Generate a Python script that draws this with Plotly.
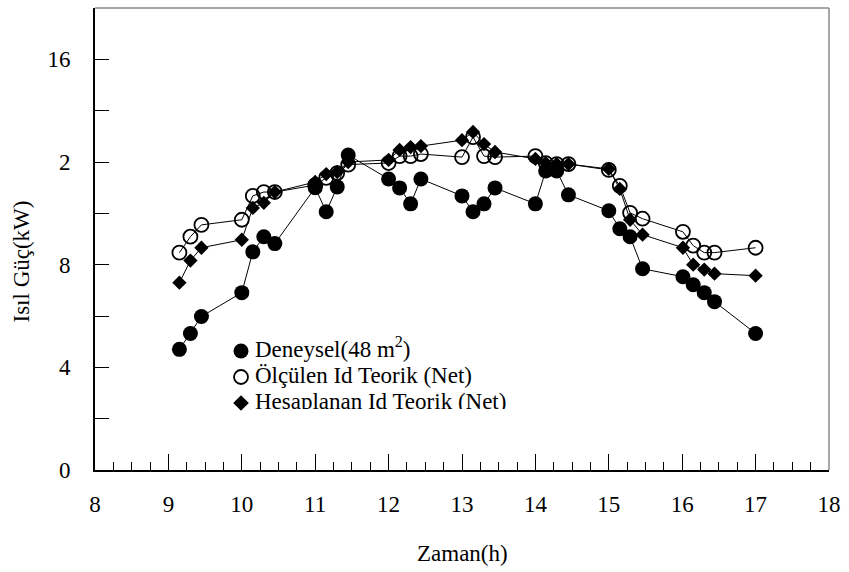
import plotly.graph_objects as go

# Saat (h)
zaman = [9.15, 9.30, 9.45, 10.00, 10.15, 10.30, 10.45, 11.00, 11.15, 11.30, 11.45,
         12.00, 12.15, 12.30, 12.44, 13.00, 13.15, 13.30, 13.45, 14.00, 14.14, 14.29,
         14.45, 15.00, 15.15, 15.29, 15.46, 16.01, 16.15, 16.30, 16.44, 17.00]

# Isıl güç (kW)
deneysel = [4.70, 5.32, 5.98, 6.91, 8.50, 9.09, 8.82, 11.00, 10.06, 11.03, 12.27,
            11.34, 10.99, 10.37, 11.34, 10.68, 10.06, 10.37, 10.99, 10.37, 11.65, 11.65,
            10.72, 10.10, 9.40, 9.09, 7.84, 7.53, 7.22, 6.91, 6.56, 5.32]
olculen = [8.47, 9.09, 9.55, 9.75, 10.68, 10.83, 10.83, 11.10, 11.38, 11.57, 11.90,
           11.96, 12.23, 12.23, 12.31, 12.19, 12.97, 12.23, 12.19, 12.23, 11.96, 11.92,
           11.92, 11.69, 11.07, 10.02, 9.79, 9.28, 8.74, 8.47, 8.47, 8.66]
hesaplanan = [7.30, 8.16, 8.66, 8.97, 10.21, 10.41, 10.83, 11.22, 11.53, 11.61, 12.00,
              12.08, 12.47, 12.58, 12.62, 12.85, 13.17, 12.70, 12.39, 12.12, 11.96, 11.92,
              11.92, 11.73, 10.95, 9.75, 9.17, 8.66, 8.00, 7.81, 7.65, 7.57]

x_ticks = [8, 9, 10, 11, 12, 13, 14, 15, 16, 17, 18]
y_ticks = [0, 4, 8, 12, 16]
y_ticktext = ["0", "4", "8", "2", "16"]

legend_labels = ["Deneysel(48 m<sup>2</sup>)",
                 "Ölçülen Id Teorik (Net)",
                 "Hesaplanan Id Teorik (Net)"]

FONT = "Liberation Serif"
W, H = 849, 572
ML, MR, MT, MB = 95, 15, 8, 102
PW, PH = W - ML - MR, H - MT - MB

fig = go.Figure()

line = dict(color="black", width=1)
fig.add_trace(go.Scatter(x=zaman, y=deneysel, mode="lines+markers", line=line,
                         marker=dict(symbol="circle", size=15, color="black"),
                         showlegend=False))
fig.add_trace(go.Scatter(x=zaman, y=olculen, mode="lines+markers", line=line,
                         marker=dict(symbol="circle-open", size=14, color="black",
                                     line=dict(width=1.8, color="black")),
                         showlegend=False))
fig.add_trace(go.Scatter(x=zaman, y=hesaplanan, mode="lines+markers", line=line,
                         marker=dict(symbol="diamond", size=11, color="black"),
                         showlegend=False))

# Açıklama kutusu: küçük bir iç eksen üzerinde
def px_x(p):
    return (p - ML) / PW

def px_y(p):
    return (H - MB - p) / PH

lx0, lx1 = 230, 560
ly_top, ly_bot = 335, 411
row_px = [351, 377, 403]
rows = [(ly_bot - r) / (ly_bot - ly_top) for r in row_px]
mx = (242 - lx0) / (lx1 - lx0)
tx = (256 - lx0) / (lx1 - lx0)

fig.add_trace(go.Scatter(x=[mx], y=[rows[0]], mode="markers", xaxis="x2", yaxis="y2",
                         marker=dict(symbol="circle", size=15, color="black"),
                         showlegend=False))
fig.add_trace(go.Scatter(x=[mx], y=[rows[1]], mode="markers", xaxis="x2", yaxis="y2",
                         marker=dict(symbol="circle-open", size=14, color="black",
                                     line=dict(width=1.8, color="black")),
                         showlegend=False))
fig.add_trace(go.Scatter(x=[mx], y=[rows[2]], mode="markers", xaxis="x2", yaxis="y2",
                         marker=dict(symbol="diamond", size=12, color="black"),
                         showlegend=False))
fig.add_trace(go.Scatter(x=[tx] * 3, y=rows, mode="text", xaxis="x2", yaxis="y2",
                         text=legend_labels, textposition="middle right",
                         textfont=dict(family=FONT, size=23, color="black"),
                         showlegend=False))

axis_common = dict(showgrid=False, zeroline=False, showline=True, linecolor="black",
                   linewidth=2, mirror=False, ticks="inside", tickcolor="black",
                   tickfont=dict(family=FONT, size=23, color="black"))

frame = dict(color="#8a8a8a", width=1.5)

fig.update_layout(
    width=W, height=H,
    margin=dict(l=ML, r=MR, t=MT, b=MB),
    paper_bgcolor="white", plot_bgcolor="white",
    xaxis=dict(range=[8, 18], tickvals=x_ticks, ticklen=16, tickwidth=1,
               ticklabelstandoff=12,
               minor=dict(dtick=0.25, ticks="inside", ticklen=8, tickcolor="black",
                          tickwidth=1),
               **axis_common),
    yaxis=dict(range=[0, 18], tickvals=y_ticks, ticktext=y_ticktext, ticklen=14,
               tickwidth=1, ticklabelstandoff=18,
               minor=dict(tickvals=[2, 6, 10, 14], ticks="inside", ticklen=14,
                          tickcolor="black", tickwidth=1),
               **axis_common),
    xaxis2=dict(domain=[px_x(lx0), px_x(lx1)], range=[0, 1], anchor="y2",
                visible=False, fixedrange=True),
    yaxis2=dict(domain=[px_y(ly_bot), px_y(ly_top)], range=[0, 1], anchor="x2",
                visible=False, fixedrange=True),
    shapes=[
        # the legend box ends here: hide the lower edge of its last row
        dict(type="rect", xref="paper", yref="paper", layer="above",
             x0=px_x(253), x1=px_x(lx1), y0=px_y(422), y1=px_y(409),
             fillcolor="white", line=dict(width=0)),
        # top and right frame lines
        dict(type="line", xref="paper", yref="paper", x0=0, x1=1, y0=1, y1=1,
             line=frame, layer="above"),
        dict(type="line", xref="paper", yref="paper", x0=1, x1=1, y0=0, y1=1,
             line=frame, layer="above"),
    ],
    annotations=[
        dict(text="Zaman(h)", x=0.5, y=-(553 - (H - MB)) / PH, xref="paper", yref="paper",
             showarrow=False, font=dict(family=FONT, size=23, color="black"),
             xanchor="center", yanchor="middle"),
        dict(text="Isıl Güç(kW)", x=-(ML - 20) / PW, y=px_y(262), xref="paper",
             yref="paper", showarrow=False, textangle=-90,
             font=dict(family=FONT, size=23, color="black"),
             xanchor="center", yanchor="middle"),
    ],
)

fig.write_html("out.html")
